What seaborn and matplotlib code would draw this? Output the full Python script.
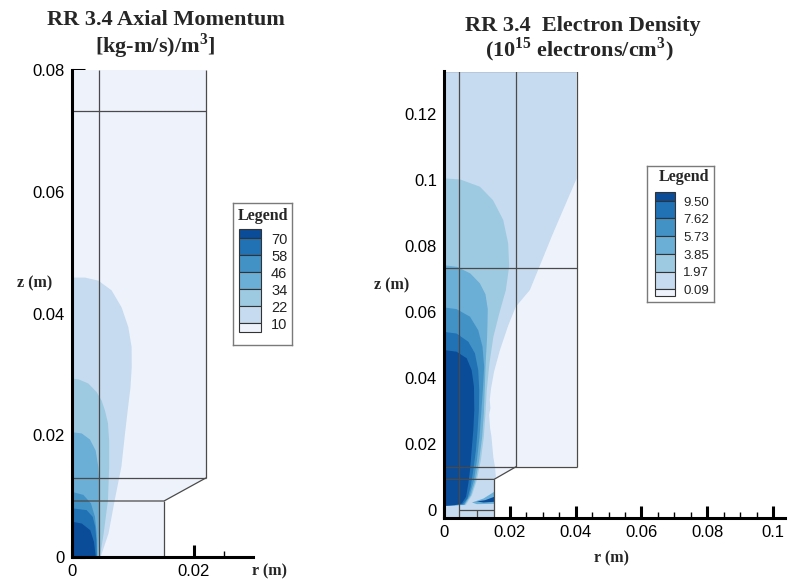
import matplotlib
matplotlib.use("Agg")
import matplotlib.pyplot as plt
from matplotlib.patches import Polygon, Rectangle
from matplotlib.ticker import MultipleLocator, FuncFormatter
import seaborn as sns

# ---------------------------------------------------------------- data
# colour bands, lowest level first
band_colors = ["#edf2fb", "#c6dbef", "#9ecae1", "#6baed6",
               "#4292c6", "#2171b5", "#0a4c98"]

# axial momentum [kg-m/s)/m^3], contour levels
mom_levels = [10, 22, 34, 46, 58, 70]
# contour lines (r, z) in metres, from the axis down to z = 0 and back along the axis
mom_c10 = [(0, 0.0459), (0.00213, 0.0459), (0.00432, 0.0454), (0.0065, 0.0438),
           (0.00814, 0.0410), (0.00923, 0.0378), (0.00978, 0.0345), (0.0098, 0.0312),
           (0.0096, 0.0279), (0.0092, 0.0246), (0.0087, 0.0203), (0.0081, 0.0148),
           (0.0070, 0.0093), (0.0060, 0.0039), (0.0047, 0.0), (0, 0.0)]
mom_c22 = [(0, 0.0293), (0.00104, 0.0292), (0.00268, 0.0285), (0.00404, 0.0271),
           (0.00486, 0.0257), (0.0054, 0.0241), (0.0059, 0.0220), (0.0061, 0.0190),
           (0.0061, 0.0148), (0.0059, 0.0093), (0.0052, 0.0039), (0.0046, 0.0),
           (0, 0.0)]
mom_c34 = [(0, 0.0205), (0.00159, 0.0203), (0.00295, 0.0193), (0.00388, 0.0175),
           (0.00432, 0.0148), (0.00454, 0.0115), (0.00454, 0.0077), (0.00443, 0.0039),
           (0.0043, 0.0), (0, 0.0)]
mom_c46 = [(0, 0.0107), (0.00186, 0.0102), (0.00311, 0.0088), (0.00377, 0.0066),
           (0.00404, 0.0039), (0.0041, 0.0), (0, 0.0)]
mom_c58 = [(0, 0.0080), (0.0024, 0.0077), (0.0034, 0.0066), (0.0038, 0.0050),
           (0.0040, 0.0028), (0.00405, 0.0), (0, 0.0)]
mom_c70 = [(0, 0.0058), (0.0016, 0.0055), (0.0030, 0.0044), (0.0036, 0.0025),
           (0.0039, 0.0), (0, 0.0)]

# electron density (1e15 electrons/cm^3), contour levels
ne_levels = [0.09, 1.97, 3.85, 5.73, 7.62, 9.50]
ne_c009 = [(0, 0.133), (0.0403, 0.133), (0.0403, 0.1006), (0.0331, 0.0839),
           (0.0261, 0.0668), (0.0218, 0.0617), (0.0195, 0.0560), (0.0170, 0.0486),
           (0.0152, 0.0420), (0.0143, 0.0370), (0.0139, 0.0335), (0.0141, 0.0310),
           (0.0137, 0.0290), (0.0140, 0.0250), (0.0144, 0.0225), (0.0146, 0.0203),
           (0.0150, 0.0160), (0.0155, 0.0132), (0.0158, 0.0094), (0.0160, -0.0023),
           (0, -0.0023)]
ne_c197 = [(0, 0.1006), (0.0049, 0.1003), (0.0109, 0.0981), (0.0149, 0.0940),
           (0.0180, 0.0880), (0.0195, 0.0809), (0.0198, 0.0740), (0.0188, 0.0668),
           (0.0168, 0.0597), (0.0150, 0.0526), (0.0138, 0.0445), (0.0130, 0.0365),
           (0.0126, 0.0294), (0.0121, 0.0223), (0.0112, 0.0152), (0.0100, 0.0092),
           (0.0085, 0.0046), (0.0066, 0.0016), (0, 0.0014)]
ne_c385 = [(0, 0.0743), (0.0040, 0.0738), (0.0080, 0.0718), (0.0109, 0.0688),
           (0.0126, 0.0655), (0.0133, 0.0610), (0.0132, 0.0560), (0.0131, 0.0526),
           (0.0127, 0.0455), (0.0124, 0.0375), (0.0121, 0.0294), (0.0116, 0.0223),
           (0.0107, 0.0152), (0.0096, 0.0092), (0.0082, 0.0046), (0.0063, 0.0017),
           (0, 0.0014)]
ne_c573 = [(0, 0.0615), (0.0038, 0.0610), (0.0079, 0.0587), (0.0104, 0.0546),
           (0.0117, 0.0496), (0.0122, 0.0435), (0.0118, 0.0365), (0.0113, 0.0294),
           (0.0108, 0.0223), (0.0100, 0.0152), (0.0091, 0.0092), (0.0078, 0.0046),
           (0.0061, 0.0017), (0, 0.0014)]
ne_c762 = [(0, 0.0541), (0.0038, 0.0536), (0.0074, 0.0511), (0.0094, 0.0476),
           (0.0104, 0.0425), (0.0107, 0.0365), (0.0106, 0.0304), (0.0102, 0.0243),
           (0.0097, 0.0183), (0.0089, 0.0122), (0.0081, 0.0072), (0.0071, 0.0036),
           (0.0057, 0.0019), (0, 0.0014)]
ne_c950 = [(0, 0.0486), (0.0038, 0.0481), (0.0069, 0.0461), (0.0084, 0.0425),
           (0.0091, 0.0375), (0.0092, 0.0304), (0.0089, 0.0243), (0.0084, 0.0183),
           (0.0079, 0.0122), (0.0074, 0.0082), (0.0067, 0.0041), (0.0054, 0.0021),
           (0.0033, 0.0016), (0, 0.0014)]
# thin high-density layer on the lower wall of the inlet
ne_wall_385 = [(0.0085, 0.0024), (0.0120, 0.0036), (0.0152, 0.0056), (0.0152, 0.0020),
               (0.0100, 0.0019)]
ne_wall_950 = [(0.0099, 0.0027), (0.0125, 0.0031), (0.0152, 0.0041), (0.0152, 0.0026),
               (0.0120, 0.0024)]

# geometry of the two computational domains (r, z) in metres
mom_domain = [(0, 0), (0.0151, 0), (0.0151, 0.0092), (0.022, 0.013),
              (0.022, 0.08), (0, 0.08)]
mom_grid = [[(0.0044, 0), (0.0044, 0.08)],
            [(0.022, 0.013), (0.022, 0.08)],
            [(0, 0.0733), (0.022, 0.0733)],
            [(0, 0.013), (0.022, 0.013)],
            [(0, 0.0092), (0.0151, 0.0092), (0.022, 0.013)],
            [(0.0151, 0), (0.0151, 0.0092)]]
ne_domain = [(0, -0.0023), (0.0152, -0.0023), (0.0152, 0.0094), (0.022, 0.0133),
             (0.0403, 0.0133), (0.0403, 0.133), (0, 0.133)]
ne_grid = [[(0.0045, -0.0023), (0.0045, 0.133)],
           [(0.022, 0.0133), (0.022, 0.133)],
           [(0.0403, 0.0133), (0.0403, 0.133), (0, 0.133)],
           [(0, 0.0736), (0.0403, 0.0736)],
           [(0, 0.0133), (0.0403, 0.0133)],
           [(0, 0.0094), (0.0152, 0.0094), (0.022, 0.0133)],
           [(0.0152, -0.0023), (0.0152, 0.0094)],
           [(0.0045, 0.0), (0.0152, 0.0)],
           [(0.0099, -0.0023), (0.0099, 0.0)]]

# ---------------------------------------------------------------- style
sns.set_theme(style="ticks")
plt.rcParams.update({
    "font.family": ["Liberation Sans", "DejaVu Sans"],
    "mathtext.fontset": "custom",
    "mathtext.rm": "Liberation Serif:bold",
    "mathtext.bf": "Liberation Serif:bold",
    "axes.edgecolor": "black",
    "xtick.color": "black",
    "ytick.color": "black",
})
SERIF = ["Liberation Serif", "DejaVu Serif"]

W, H = 796, 579
fig = plt.figure(figsize=(W / 100, H / 100), dpi=100)
fig.patch.set_facecolor("white")


def px_rect(x0, y0, x1, y1):
    return [x0 / W, 1 - y1 / H, (x1 - x0) / W, (y1 - y0) / H]


def fig_text(x, y, s, **kw):
    fig.text(x / W, 1 - y / H, s, **kw)


def fmt(v, _):
    return "0" if abs(v) < 1e-12 else f"{v:g}"


def style_axes(ax, xlim, ylim, xmajor, ymajor):
    ax.set_xlim(*xlim)
    ax.set_ylim(*ylim)
    ax.set_facecolor("none")
    sns.despine(ax=ax)
    for sp in ("left", "bottom"):
        ax.spines[sp].set_linewidth(2.2)
    ax.xaxis.set_major_locator(MultipleLocator(xmajor))
    ax.yaxis.set_major_locator(MultipleLocator(ymajor))
    ax.xaxis.set_minor_locator(MultipleLocator(0.005))
    ax.yaxis.set_minor_locator(MultipleLocator(0.005))
    ax.xaxis.set_major_formatter(FuncFormatter(fmt))
    ax.yaxis.set_major_formatter(FuncFormatter(fmt))
    ax.tick_params(which="major", direction="in", length=9, width=2.2,
                   labelsize=12, pad=5)
    ax.tick_params(which="minor", direction="in", length=4.5, width=1)
    ax.set_xlabel("")
    ax.set_ylabel("")


def draw_field(ax, domain, contours, extra=()):
    dom = Polygon(domain, closed=True, facecolor=band_colors[0],
                  edgecolor="none", zorder=1)
    ax.add_patch(dom)
    for i, pts in enumerate(contours):
        p = Polygon(pts, closed=True, facecolor=band_colors[i + 1],
                    edgecolor="none", zorder=1.5)
        ax.add_patch(p)
        p.set_clip_path(dom)
    for band, pts in extra:
        p = Polygon(pts, closed=True, facecolor=band_colors[band],
                    edgecolor="none", zorder=1.6)
        ax.add_patch(p)
        p.set_clip_path(dom)


def draw_grid(ax, segments):
    for seg in segments:
        rs, zs = zip(*seg)
        ax.plot(rs, zs, color="#4a4a4a", lw=0.9, zorder=2, solid_capstyle="butt")


def draw_legend(rect, labels, sw_x, top, part_top, full, part_bot,
                label_x, label_size, title_xy):
    lax = fig.add_axes(px_rect(*rect))
    w, h = rect[2] - rect[0], rect[3] - rect[1]
    lax.set_xlim(0, w)
    lax.set_ylim(h, 0)
    lax.set_xticks([])
    lax.set_yticks([])
    lax.set_facecolor("white")
    for sp in lax.spines.values():
        sp.set_visible(True)
        sp.set_color("#7a7a7a")
        sp.set_linewidth(1.0)
    heights = [part_top] + [full] * (len(labels) - 1) + [part_bot]
    y = top
    colors = band_colors[::-1]
    bounds = []
    for c, hh in zip(colors, heights):
        lax.add_patch(Rectangle((sw_x[0], y), sw_x[1] - sw_x[0], hh,
                                facecolor=c, edgecolor="#333333", lw=0.8))
        y += hh
        bounds.append(y)
    for lab, yb in zip(labels, bounds[:-1]):
        lax.text(label_x, yb + 2, lab, ha="left", va="center",
                 fontsize=label_size, color="#222222")
    lax.text(title_xy[0], title_xy[1], "Legend", ha="center", va="center",
             fontsize=11.5, fontweight="bold", family=SERIF)


# ---------------------------------------------------------------- left panel
ax1 = fig.add_axes(px_rect(72, 70, 253, 557))
draw_field(ax1, mom_domain, [mom_c10, mom_c22, mom_c34, mom_c46, mom_c58, mom_c70])
draw_grid(ax1, mom_grid)
style_axes(ax1, (0, 0.0297), (0, 0.08), 0.02, 0.02)

fig_text(47, 20, "RR 3.4 Axial Momentum", ha="left", va="center",
         fontsize=16, fontweight="bold", family=SERIF)
fig_text(95, 46, r"[kg-m/s)/m$^{\mathbf{3}}$]", ha="left", va="center",
         fontsize=16, fontweight="bold", family=SERIF)
fig_text(35, 283, "z (m)", ha="center", va="center", fontsize=11.5,
         fontweight="bold", family=SERIF)
fig_text(270, 571, "r (m)", ha="center", va="center", fontsize=11.5,
         fontweight="bold", family=SERIF)

draw_legend((233, 203, 292, 345), [f"{v:g}" for v in mom_levels[::-1]],
            (6, 28), 26.3, 9, 17, 8.4, 38, 10.5, (29.5, 12.5))

# ---------------------------------------------------------------- right panel
ax2 = fig.add_axes(px_rect(444, 71.5, 785, 518))
draw_field(ax2, ne_domain, [ne_c009, ne_c197, ne_c385, ne_c573, ne_c762, ne_c950],
           extra=[(3, ne_wall_385), (6, ne_wall_950)])
draw_grid(ax2, ne_grid)
style_axes(ax2, (0, 0.1036), (-0.0023, 0.133), 0.02, 0.02)

fig_text(465, 26, "RR 3.4  Electron Density", ha="left", va="center",
         fontsize=16, fontweight="bold", family=SERIF)
fig_text(485, 50, r"(10$^{\mathbf{15}}$ electrons/cm$^{\mathbf{3}}$)", ha="left",
         va="center", fontsize=16, fontweight="bold", family=SERIF)
fig_text(392, 285, "z (m)", ha="center", va="center", fontsize=11.5,
         fontweight="bold", family=SERIF)
fig_text(612, 558, "r (m)", ha="center", va="center", fontsize=11.5,
         fontweight="bold", family=SERIF)

draw_legend((647, 166, 714, 302), [f"{v:.2f}" for v in ne_levels[::-1]],
            (8, 28), 26.3, 8.4, 17.7, 6.8, 36, 9.5, (37, 11))

fig.savefig("out.png", dpi=100, facecolor="white")
